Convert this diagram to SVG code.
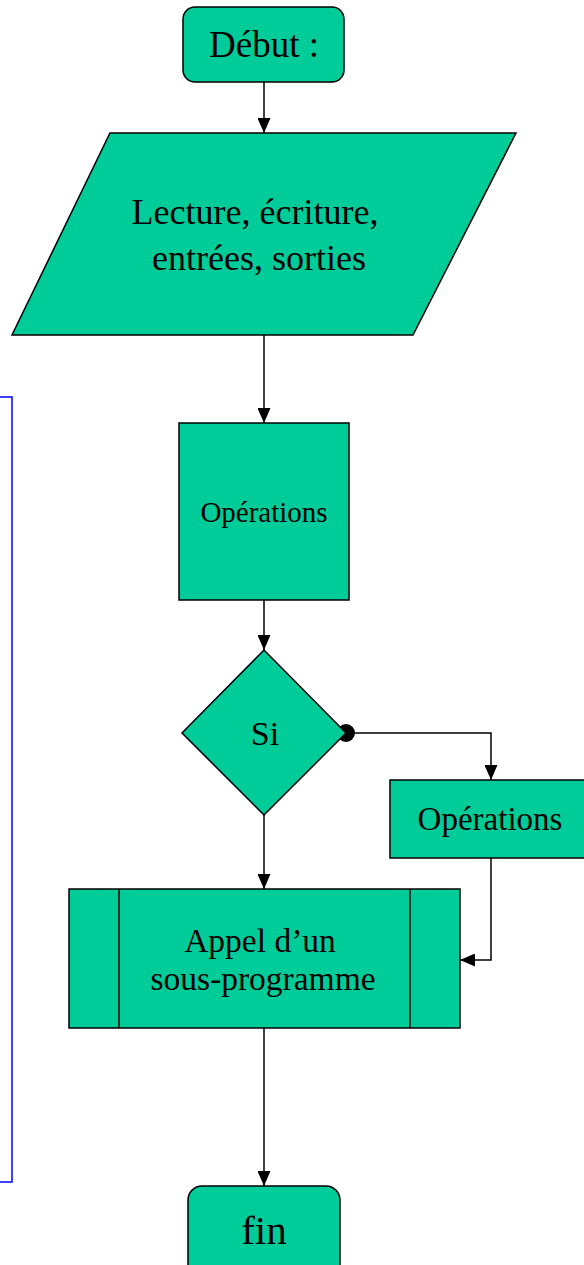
<svg xmlns="http://www.w3.org/2000/svg" width="584" height="1265" viewBox="0 0 584 1265">
<defs>
<style>
.n{fill:#00CC99;stroke:#000;stroke-width:1.5}
.t{font-family:"Liberation Serif","Times New Roman",serif;fill:#000;text-anchor:middle}
.c{fill:none;stroke:#000;stroke-width:1.5}
</style>
<marker id="ah" viewBox="0 0 15 13" refX="15" refY="6.5" markerWidth="15" markerHeight="13" markerUnits="userSpaceOnUse" orient="auto">
<path d="M0,0 L15,6.5 L0,13 Z" fill="#000"/>
</marker>
</defs>
<rect x="-20" y="397" width="32" height="785" fill="none" stroke="#0000FF" stroke-width="1.5"/>
<g id="connectors">
<path class="c" d="M264,82 V133" marker-end="url(#ah)"/>
<path class="c" d="M264,335 V423" marker-end="url(#ah)"/>
<path class="c" d="M264,600 V650" marker-end="url(#ah)"/>
<path class="c" d="M346,733 H491 V780" marker-end="url(#ah)"/>
<circle cx="346" cy="733" r="9" fill="#000"/>
<path class="c" d="M264,815 V889" marker-end="url(#ah)"/>
<path class="c" d="M491,858 V960 H460" marker-end="url(#ah)"/>
<path class="c" d="M264,1028 V1186" marker-end="url(#ah)"/>
</g>
<g id="debut">
<rect class="n" x="183" y="7" width="161" height="75" rx="12"/>
<text class="t" x="264" y="57" font-size="37">Début :</text>
</g>
<g id="lecture">
<polygon class="n" points="110,133 516,133 413,335 12,335"/>
<text class="t" x="255" y="224" font-size="36">Lecture, écriture,</text>
<text class="t" x="259" y="270" font-size="36">entrées, sorties</text>
</g>
<g id="operations1">
<rect class="n" x="179" y="423" width="170" height="177"/>
<text class="t" x="264" y="522" font-size="29">Opérations</text>
</g>
<g id="si">
<polygon class="n" points="264,650 346,733 264,815 182,733"/>
<text class="t" x="265" y="745" font-size="34">Si</text>
</g>
<g id="operations2">
<rect class="n" x="390" y="780" width="196" height="78"/>
<text class="t" x="490" y="830" font-size="33">Opérations</text>
</g>
<g id="appel">
<rect class="n" x="69" y="889" width="391" height="139"/>
<line class="c" x1="119" y1="889" x2="119" y2="1028"/>
<line class="c" x1="410" y1="889" x2="410" y2="1028"/>
<text class="t" x="260" y="952" font-size="33.5">Appel d’un</text>
<text class="t" x="263" y="990" font-size="33.5">sous-programme</text>
</g>
<g id="fin">
<rect class="n" x="188" y="1186" width="152" height="100" rx="14"/>
<text class="t" x="264" y="1244" font-size="41">fin</text>
</g>
</svg>
